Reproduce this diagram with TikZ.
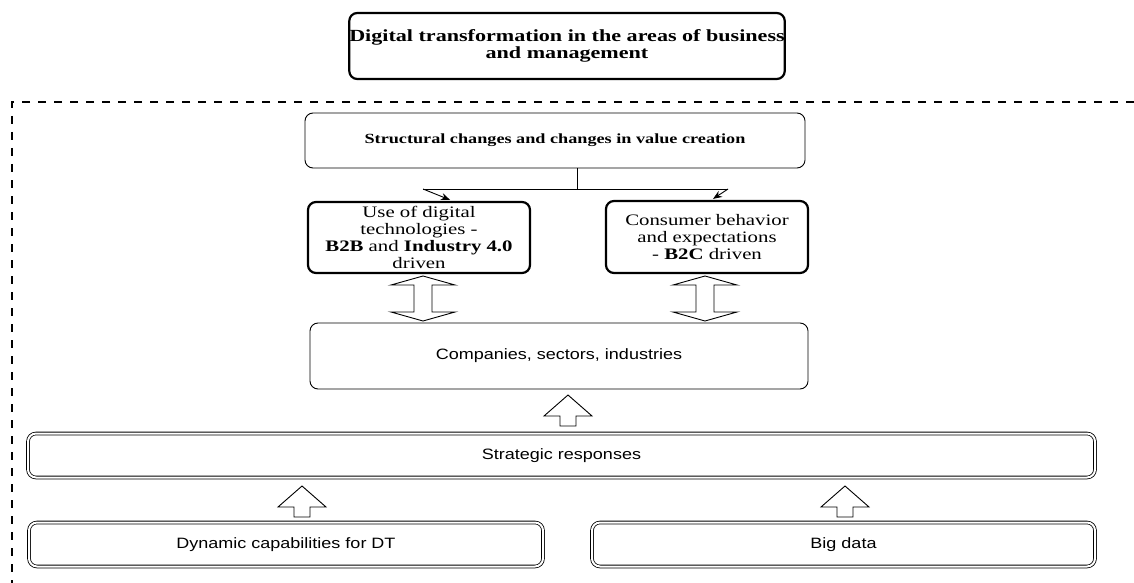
\documentclass[tikz,border=0pt]{standalone}
\usepackage{fontspec}
\usepackage{tikz}
\usetikzlibrary{arrows.meta}
\newfontfamily\dtserif[FakeStretch=1.3]{Liberation Serif}
\newfontfamily\dtsans[FakeStretch=1.2]{Liberation Sans}

\begin{document}
\begin{tikzpicture}[
            x=1pt, y=-1pt,
            box/.style={draw, rounded corners=8pt, inner sep=0pt, align=center},
            thickbox/.style={box, line width=2.2pt},
            thinbox/.style={box, line width=0.9pt},
            dblbox/.style={box, double, double distance=2pt, line width=0.8pt, font=\dtsans\fontsize{15}{17}\selectfont},
            serifbig/.style={font=\dtserif\fontsize{16}{17}\selectfont},
            blockarr/.style={draw, line width=0.9pt, fill=white, line join=miter}
        ]
            \useasboundingbox (0,0) rectangle (1134,583);

            \draw [line width=2.2pt, dash pattern=on 8pt off 8pt] (1134,102) -- (12,102) -- (12,583);

            \node [thickbox, font=\dtserif\bfseries\fontsize{17}{17}\selectfont, minimum width=424, minimum height=66] (title) at (567,46)
                {Digital transformation in the areas of business\\and management};

            \node [thinbox, font=\dtserif\bfseries\fontsize{14}{16}\selectfont, minimum width=500, minimum height=55] (struct) at (555,140.5)
                {Structural changes and changes in value creation};

            \node [thickbox, serifbig, minimum width=222, minimum height=71] (use) at (419,237.5)
                {Use of digital\\technologies -\\\textbf{B2B} and \textbf{Industry 4.0}\\driven};
            \node [thickbox, serifbig, minimum width=202, minimum height=72] (cons) at (707,237)
                {Consumer behavior\\and expectations\\- \textbf{B2C} driven};

            \node [thinbox, font=\dtsans\fontsize{15}{17}\selectfont, minimum width=498, minimum height=66] (comp) at (559,356)
                {Companies, sectors, industries};

            \node [dblbox, minimum width=1067, minimum height=44] (strat) at (561.5,455.5) {Strategic responses};
            \node [dblbox, minimum width=514, minimum height=44] (dyn) at (286,544.5) {Dynamic capabilities for DT};
            \node [dblbox, minimum width=503, minimum height=44] (big) at (843.5,544.5) {Big data};

            \coordinate (split) at (577,189);
            \coordinate (splitl) at (423,189);
            \coordinate (splitr) at (728,189);
            \draw [line width=0.9pt] (struct.south -| split) -- (split);
            \draw [line width=0.9pt] (splitl) -- (splitr);
            \draw [line width=0.9pt, -{Stealth[length=9pt,width=7pt]}] (splitl) -- ([xshift=31pt,yshift=1pt]use.north);
            \draw [line width=0.9pt, -{Stealth[length=9pt,width=7pt]}] (splitr) -- ([xshift=6pt,yshift=1pt]cons.north);

            \foreach \x in {423,705} {
                \draw [blockarr] (\x,276) -- (\x+32,285) -- (\x+9,285) -- (\x+9,312) -- (\x+32,312) -- (\x,321)
                    -- (\x-32,312) -- (\x-9,312) -- (\x-9,285) -- (\x-32,285) -- cycle;
            }

            \foreach \x/\y in {568/426,302/517,845/517} {
                \draw [blockarr] (\x-8,\y) -- (\x-8,\y-10) -- (\x-24,\y-10) -- (\x,\y-31) -- (\x+24,\y-10)
                    -- (\x+8,\y-10) -- (\x+8,\y) -- cycle;
            }
        \end{tikzpicture}
\end{document}
